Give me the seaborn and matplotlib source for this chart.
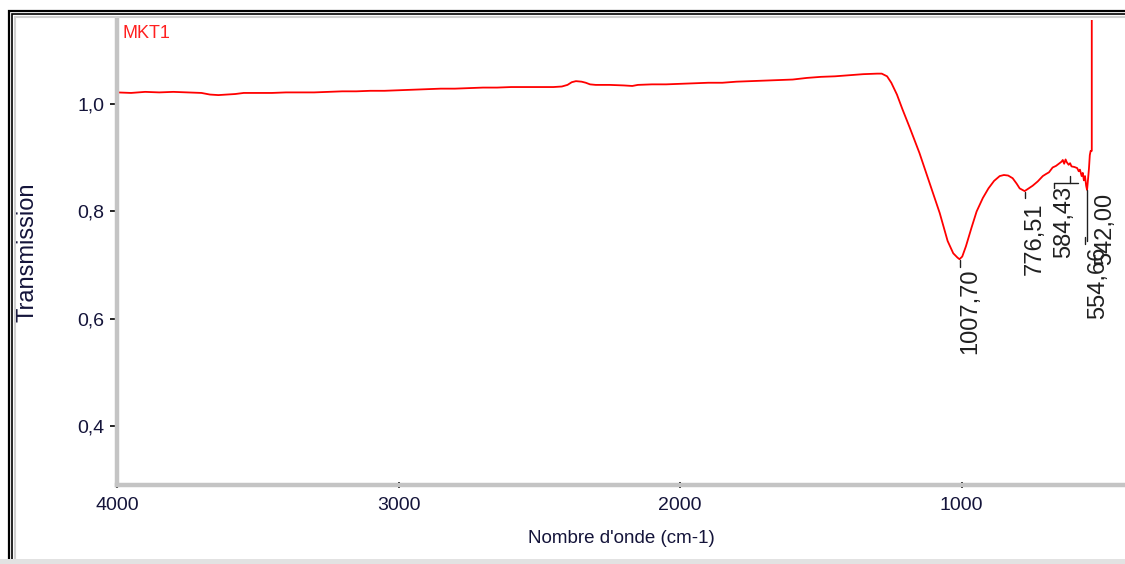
import matplotlib
matplotlib.use("Agg")
import matplotlib.pyplot as plt
import seaborn as sns
import pandas as pd
from matplotlib.ticker import FixedLocator, MultipleLocator, FuncFormatter
from matplotlib.patches import Rectangle
from matplotlib.transforms import IdentityTransform

# ---------------- data ----------------
wavenumber = [4000, 3950, 3900, 3850, 3800, 3750, 3700, 3670, 3640, 3610, 3580, 3550,
              3500, 3450, 3400, 3350, 3300, 3250, 3200, 3150, 3100, 3050, 3000, 2950,
              2900, 2850, 2800, 2750, 2700, 2650, 2600, 2550, 2500, 2450, 2420, 2400,
              2385, 2370, 2350, 2335, 2320, 2300, 2250, 2200, 2170, 2150, 2100, 2050,
              2000, 1950, 1900, 1850, 1800, 1750, 1700, 1650, 1600, 1550, 1500, 1450,
              1400, 1350, 1300, 1284, 1265, 1250, 1230, 1210, 1185, 1150, 1114, 1078,
              1050, 1030, 1015, 1007.7, 998, 985, 965, 947, 925, 905, 885, 865, 850,
              835, 819, 805, 794, 776.5, 765, 748, 730, 712, 700, 690, 677, 665, 655,
              645, 641, 636, 631, 627, 620, 615, 610, 600, 590, 584.4, 580, 574, 570,
              566, 562, 558, 554.7, 551, 548, 545, 542, 538, 538]
transmission = [1.022, 1.021, 1.023, 1.022, 1.023, 1.022, 1.021, 1.018, 1.017, 1.018, 1.019, 1.021,
                1.021, 1.021, 1.022, 1.022, 1.022, 1.023, 1.024, 1.024, 1.025, 1.025, 1.026, 1.027,
                1.028, 1.029, 1.029, 1.030, 1.031, 1.031, 1.032, 1.032, 1.032, 1.032, 1.033, 1.036,
                1.041, 1.043, 1.042, 1.040, 1.037, 1.036, 1.036, 1.035, 1.034, 1.036, 1.037, 1.037,
                1.038, 1.039, 1.040, 1.040, 1.042, 1.043, 1.044, 1.045, 1.046, 1.049, 1.051, 1.052,
                1.054, 1.056, 1.057, 1.057, 1.052, 1.040, 1.018, 0.990, 0.957, 0.909, 0.853, 0.797,
                0.745, 0.722, 0.714, 0.711, 0.716, 0.735, 0.770, 0.800, 0.825, 0.843, 0.857, 0.866, 0.868,
                0.867, 0.862, 0.852, 0.843, 0.838, 0.842, 0.848, 0.856, 0.866, 0.870, 0.873, 0.882, 0.885, 0.889,
                0.893, 0.896, 0.889, 0.897, 0.892, 0.887, 0.890, 0.884, 0.883, 0.881, 0.875, 0.878, 0.866, 0.872,
                0.858, 0.866, 0.848, 0.840, 0.862, 0.880, 0.905, 0.913, 0.913, 1.300]

peak_labels = ["1007,70", "776,51", "584,43", "554,66", "542,00"]
x_ticks = [4000, 3000, 2000, 1000]
y_ticks = [0.4, 0.6, 0.8, 1.0]

df = pd.DataFrame({"wn": wavenumber, "T": transmission})

# ---------------- figure ----------------
sns.set_theme(style="white")
plt.rcParams["font.family"] = ["Liberation Sans", "DejaVu Sans"]

W, H = 1125, 564
fig = plt.figure(figsize=(W / 100, H / 100), dpi=100)
fig.patch.set_facecolor("white")

ax_left, ax_right, ax_top, ax_bottom = 117, 1125, 20, 485
ax = fig.add_axes([ax_left / W, 1 - ax_bottom / H, (ax_right - ax_left) / W, (ax_bottom - ax_top) / H])

sns.lineplot(data=df, x="wn", y="T", sort=False, estimator=None, color="#ff0000",
             linewidth=1.3, ax=ax)

ax.set_xlim(4000, 420)
ax.set_ylim(0.290, 1.157)

for s in ["top", "right"]:
    ax.spines[s].set_visible(False)
for s in ["left", "bottom"]:
    ax.spines[s].set_color("#c4c4c4")
    ax.spines[s].set_linewidth(3.2)

ax.xaxis.set_major_locator(FixedLocator(x_ticks))
ax.xaxis.set_minor_locator(MultipleLocator(200))
ax.yaxis.set_major_locator(FixedLocator(y_ticks))
ax.yaxis.set_minor_locator(MultipleLocator(0.04))
ax.yaxis.set_major_formatter(FuncFormatter(lambda v, p: f"{v:.1f}".replace(".", ",")))
ax.xaxis.set_major_formatter(FuncFormatter(lambda v, p: f"{int(v)}"))

tick_col = "#14143a"
ax.tick_params(axis="y", which="major", left=True, direction="out", length=5, width=1.2,
               color="black", labelsize=14, labelcolor=tick_col, pad=4)
ax.tick_params(axis="y", which="minor", left=True, direction="inout", length=2, width=1.6,
               color="black")
ax.tick_params(axis="x", which="major", bottom=True, direction="inout", length=5, width=1.2,
               color="black", labelsize=14, labelcolor=tick_col, pad=6)
ax.tick_params(axis="x", which="minor", bottom=True, direction="inout", length=2, width=1.6,
               color="black")

ax.set_xlabel("Nombre d'onde (cm-1)", fontsize=13.5, color=tick_col)
ax.xaxis.set_label_coords(0.5, -0.097)
ax.xaxis.label.set_va("top")
ax.set_ylabel("Transmission", fontsize=17, color=tick_col)
ax.yaxis.set_label_coords(-0.078, 0.5)

ax.text(0.005, 0.990, "MKT1", transform=ax.transAxes, color="#ff2020", fontsize=13,
        ha="left", va="top")

# ---------------- peak annotations ----------------
lab_col = "#202020"
lab_fs = 17
# 1007,70
ax.plot([1007.7, 1007.7], [0.709, 0.697], color=lab_col, lw=1)
ax.text(968, 0.694, peak_labels[0], rotation=90, ha="center", va="top", fontsize=lab_fs, color=lab_col)
# 776,51
ax.plot([776.5, 776.5], [0.836, 0.825], color=lab_col, lw=1)
ax.text(741, 0.817, peak_labels[1], rotation=90, ha="center", va="top", fontsize=lab_fs, color=lab_col)
# 584,43
ax.plot([672, 586], [0.853, 0.853], color=lab_col, lw=1)
ax.plot([672, 672], [0.853, 0.843], color=lab_col, lw=1)
ax.plot([614, 614], [0.866, 0.853], color=lab_col, lw=1)
ax.text(638, 0.847, peak_labels[2], rotation=90, ha="center", va="top", fontsize=lab_fs, color=lab_col)
# 554,66
ax.plot([556, 556], [0.840, 0.745], color=lab_col, lw=1)
ax.plot([562, 562], [0.752, 0.740], color=lab_col, lw=1)
ax.text(517, 0.734, peak_labels[3], rotation=90, ha="center", va="top", fontsize=lab_fs, color=lab_col)
# 542,00
ax.text(492, 0.834, peak_labels[4], rotation=90, ha="center", va="top", fontsize=lab_fs, color=lab_col)

# ---------------- window frame ----------------
tr = IdentityTransform()
fig.add_artist(Rectangle((8.5, -20), W + 40, H - 8.5 + 20 - 2, transform=tr,
                         fill=False, edgecolor="black", lw=1.6))
fig.add_artist(Rectangle((12, -20), W + 40, H - 12 + 20 - 2, transform=tr,
                         fill=False, edgecolor="black", lw=1.2))
fig.add_artist(Rectangle((15, -20), W + 40, H - 15 + 20 - 2, transform=tr,
                         fill=False, edgecolor="#d0d0d0", lw=1.5))
fig.add_artist(Rectangle((0, 0), W, 5, transform=tr, facecolor="#e2e2e2", edgecolor="none"))

fig.savefig("out.png", dpi=100)
